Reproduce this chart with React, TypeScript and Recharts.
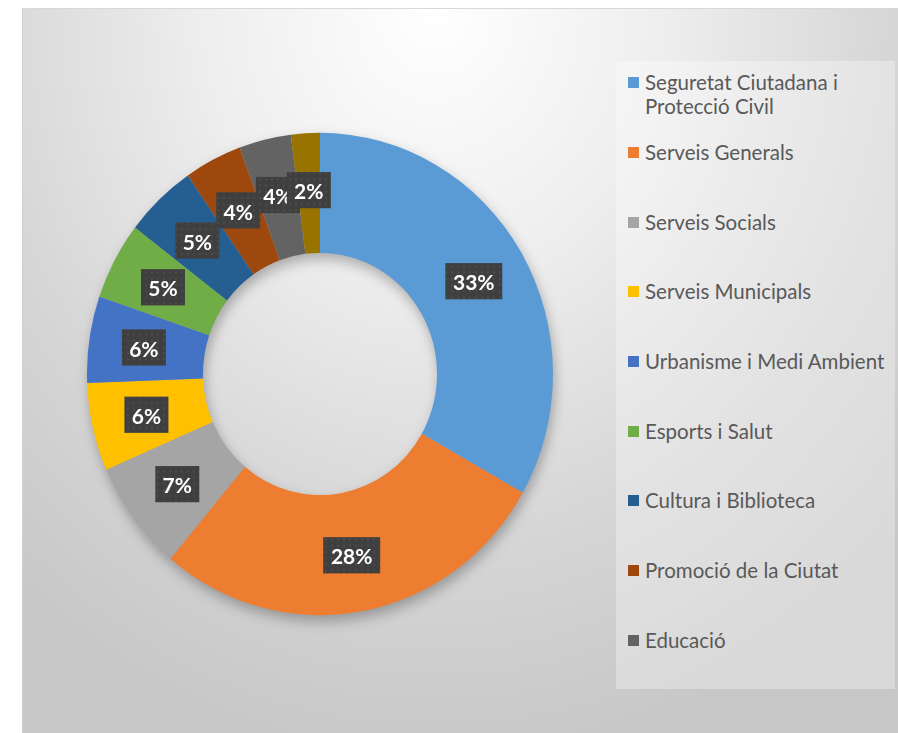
import { PieChart, Pie, Cell } from "recharts";

const categories = [
  "Seguretat Ciutadana i Protecció Civil",
  "Serveis Generals",
  "Serveis Socials",
  "Serveis Municipals",
  "Urbanisme i Medi Ambient",
  "Esports i Salut",
  "Cultura i Biblioteca",
  "Promoció de la Ciutat",
  "Educació",
  "Altres",
];

const shares = [33.2, 27.9, 7.4, 5.9, 5.8, 5.2, 5.0, 4.0, 3.6, 2.0];

// only the first nine appear in the legend box
const legendCount = 9;

const COLORS = [
  "#5b9bd5", "#ed7d31", "#a5a5a5", "#ffc000", "#4472c4",
  "#70ad47", "#255e91", "#9e480e", "#636363", "#997300",
];

const data = categories.map((name, i) => ({ name, value: shares[i] }));

const RADIAN = Math.PI / 180;
const CX = 297;
const CY = 365;

function renderLabel(props: any) {
  const { cx, cy, midAngle, innerRadius, outerRadius, percent } = props;
  const r = (innerRadius + outerRadius) / 2 + 3;
  const x = cx + r * Math.cos(-midAngle * RADIAN);
  const y = cy + r * Math.sin(-midAngle * RADIAN);
  const text = `${Math.round(percent * 100)}%`;
  const w = text.length === 3 ? 57 : 44;
  const h = 35;
  return (
    <g>
      <rect x={x - w / 2} y={y - h / 2} width={w} height={h} fill="url(#dots)" />
      <text
        x={x}
        y={y + 1}
        fill="#ffffff"
        textAnchor="middle"
        dominantBaseline="central"
        fontFamily="Lato, sans-serif"
        fontWeight="bold"
        fontSize={21}
      >
        {text}
      </text>
    </g>
  );
}

function LegendBox() {
  return (
    <div
      style={{
        position: "absolute",
        left: 593,
        top: 52,
        width: 279,
        height: 628,
        background: "rgba(255,255,255,0.32)",
        fontFamily: "Lato, sans-serif",
        fontSize: 20.5,
        color: "#595959",
        boxSizing: "border-box",
        paddingTop: 9,
        paddingLeft: 12,
      }}
    >
      {categories.slice(0, legendCount).map((name, i) => (
        <div
          key={name}
          style={{
            display: "flex",
            alignItems: "flex-start",
            lineHeight: "24px",
            marginBottom: i === 0 ? 22 : 45.7,
            width: i === 0 ? 235 : 275,
            whiteSpace: i === 0 ? "normal" : "nowrap",
          }}
        >
          <span
            style={{
              display: "inline-block",
              width: 11,
              height: 11,
              background: COLORS[i],
              marginTop: 7,
              marginRight: 6,
              flex: "0 0 auto",
            }}
          />
          <span>{name}</span>
        </div>
      ))}
    </div>
  );
}

export default function App() {
  return (
    <div
      style={{
        position: "absolute",
        left: 22,
        top: 8,
        width: 876,
        height: 725,
        background:
          "radial-gradient(ellipse 75% 105% at 47% 0%, #ffffff 0%, #eeeeee 35%, #d6d6d6 70%, #c7c7c7 100%)",
        borderTop: "1px solid #d8d8d8",
        borderLeft: "1px solid #d0d0d0",
        boxSizing: "border-box",
        overflow: "hidden",
      }}
    >
      <div
        style={{
          filter: "drop-shadow(2px 6px 6px rgba(0,0,0,0.28))",
          transform: "scaleY(1.035)",
          transformOrigin: `0px ${CY}px`,
        }}
      >
        <PieChart width={876} height={725} margin={{ top: 0, right: 0, bottom: 0, left: 0 }}>
          <defs>
            <pattern id="dots" width="6" height="6" patternUnits="userSpaceOnUse">
              <rect width="6" height="6" fill="#3f3f3f" />
              <circle cx="3" cy="3" r="0.8" fill="#555555" />
            </pattern>
          </defs>
          <Pie
            data={data}
            dataKey="value"
            nameKey="name"
            cx={CX}
            cy={CY}
            innerRadius={117}
            outerRadius={233}
            startAngle={90}
            endAngle={-270}
            stroke="none"
            labelLine={false}
            label={renderLabel}
            isAnimationActive={false}
          >
            {data.map((entry, index) => (
              <Cell key={`cell-${index}`} fill={COLORS[index % COLORS.length]} />
            ))}
          </Pie>
        </PieChart>
      </div>
      <LegendBox />
    </div>
  );
}
